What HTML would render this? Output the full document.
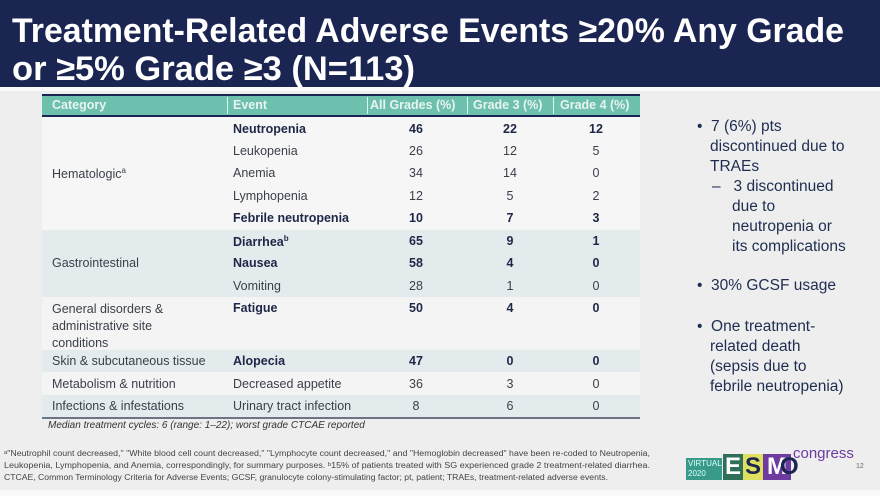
<!DOCTYPE html>
<html><head><meta charset="utf-8"><style>
body{margin:0;width:880px;height:496px;overflow:hidden;background:#eeeeee;font-family:"Liberation Sans",Arial,sans-serif;position:relative}
.a{position:absolute;white-space:nowrap}
.r{position:absolute;left:42px;width:598px}
.t{font-size:12.5px;color:#3a3f4a}
.b{font-weight:bold;color:#1e2747}
.c{text-align:center;width:60px}
.rt{position:absolute;left:697px;font-size:15.5px;color:#1e2d50;line-height:20px}
</style></head><body>
<div class="a" style="left:0;top:0;width:880px;height:87px;background:#1b2552"></div>
<svg class="a" style="left:0;top:0" width="880" height="90">
<text x="12" y="42" fill="#fff" font-family="Liberation Sans" font-weight="bold" font-size="34" textLength="832" lengthAdjust="spacingAndGlyphs">Treatment-Related Adverse Events ≥20% Any Grade</text>
<text x="12" y="80" fill="#fff" font-family="Liberation Sans" font-weight="bold" font-size="34" textLength="403" lengthAdjust="spacingAndGlyphs">or ≥5% Grade ≥3 (N=113)</text>
</svg>
<div class="a" style="left:0;top:87px;width:880px;height:4px;background:#fafafa"></div>
<div class="r" style="top:94px;height:2px;background:#1b2552"></div>
<div class="r" style="top:96px;height:19px;background:#6dbfae"></div>
<div class="r" style="top:115px;height:2px;background:#1b2552"></div>
<div class="a" style="left:227px;top:97px;width:1px;height:17px;background:#cfe"></div>
<div class="a" style="left:367px;top:97px;width:1px;height:17px;background:#cfe"></div>
<div class="a" style="left:467px;top:97px;width:1px;height:17px;background:#cfe"></div>
<div class="a" style="left:553px;top:97px;width:1px;height:17px;background:#cfe"></div>
<div class="a" style="left:52px;top:98px;font-size:12.5px;font-weight:bold;color:#e8f4f0">Category</div>
<div class="a" style="left:233px;top:98px;font-size:12.5px;font-weight:bold;color:#e8f4f0">Event</div>
<div class="a" style="left:370px;top:98px;font-size:12.5px;font-weight:bold;color:#e8f4f0">All Grades (%)</div>
<div class="a" style="left:473px;top:98px;font-size:12.5px;font-weight:bold;color:#e8f4f0">Grade 3 (%)</div>
<div class="a" style="left:560px;top:98px;font-size:12.5px;font-weight:bold;color:#e8f4f0">Grade 4 (%)</div>
<div class="r" style="top:117px;height:113px;background:#f6f6f6"></div>
<div class="r" style="top:230px;height:67px;background:#e4ebed"></div>
<div class="r" style="top:297px;height:53px;background:#f4f4f4"></div>
<div class="r" style="top:350px;height:22px;background:#e4ebed"></div>
<div class="r" style="top:372px;height:23px;background:#f4f4f4"></div>
<div class="r" style="top:395px;height:22px;background:#e4ebed"></div>
<div class="r" style="top:417px;height:2px;background:#6b7585"></div>
<div class="a t" style="left:52px;top:166px">Hematologic<sup style="font-size:8px">a</sup></div>
<div class="a t" style="left:52px;top:256px">Gastrointestinal</div>
<div class="a t" style="left:52px;top:301px;line-height:17px">General disorders &amp;<br>administrative site<br>conditions</div>
<div class="a t" style="left:52px;top:354px">Skin &amp; subcutaneous tissue</div>
<div class="a t" style="left:52px;top:377px">Metabolism &amp; nutrition</div>
<div class="a t" style="left:52px;top:399px">Infections &amp; infestations</div>
<div class="a t b" style="left:233px;top:122px">Neutropenia</div><div class="a t b c" style="left:386px;top:122px">46</div><div class="a t b c" style="left:480px;top:122px">22</div><div class="a t b c" style="left:566px;top:122px">12</div>
<div class="a t" style="left:233px;top:144px">Leukopenia</div><div class="a t c" style="left:386px;top:144px">26</div><div class="a t c" style="left:480px;top:144px">12</div><div class="a t c" style="left:566px;top:144px">5</div>
<div class="a t" style="left:233px;top:166px">Anemia</div><div class="a t c" style="left:386px;top:166px">34</div><div class="a t c" style="left:480px;top:166px">14</div><div class="a t c" style="left:566px;top:166px">0</div>
<div class="a t" style="left:233px;top:189px">Lymphopenia</div><div class="a t c" style="left:386px;top:189px">12</div><div class="a t c" style="left:480px;top:189px">5</div><div class="a t c" style="left:566px;top:189px">2</div>
<div class="a t b" style="left:233px;top:211px">Febrile neutropenia</div><div class="a t b c" style="left:386px;top:211px">10</div><div class="a t b c" style="left:480px;top:211px">7</div><div class="a t b c" style="left:566px;top:211px">3</div>
<div class="a t b" style="left:233px;top:234px">Diarrhea<sup style="font-size:8px">b</sup></div><div class="a t b c" style="left:386px;top:234px">65</div><div class="a t b c" style="left:480px;top:234px">9</div><div class="a t b c" style="left:566px;top:234px">1</div>
<div class="a t b" style="left:233px;top:256px">Nausea</div><div class="a t b c" style="left:386px;top:256px">58</div><div class="a t b c" style="left:480px;top:256px">4</div><div class="a t b c" style="left:566px;top:256px">0</div>
<div class="a t" style="left:233px;top:279px">Vomiting</div><div class="a t c" style="left:386px;top:279px">28</div><div class="a t c" style="left:480px;top:279px">1</div><div class="a t c" style="left:566px;top:279px">0</div>
<div class="a t b" style="left:233px;top:301px">Fatigue</div><div class="a t b c" style="left:386px;top:301px">50</div><div class="a t b c" style="left:480px;top:301px">4</div><div class="a t b c" style="left:566px;top:301px">0</div>
<div class="a t b" style="left:233px;top:354px">Alopecia</div><div class="a t b c" style="left:386px;top:354px">47</div><div class="a t b c" style="left:480px;top:354px">0</div><div class="a t b c" style="left:566px;top:354px">0</div>
<div class="a t" style="left:233px;top:377px">Decreased appetite</div><div class="a t c" style="left:386px;top:377px">36</div><div class="a t c" style="left:480px;top:377px">3</div><div class="a t c" style="left:566px;top:377px">0</div>
<div class="a t" style="left:233px;top:399px">Urinary tract infection</div><div class="a t c" style="left:386px;top:399px">8</div><div class="a t c" style="left:480px;top:399px">6</div><div class="a t c" style="left:566px;top:399px">0</div>
<div class="a" style="left:48px;top:420px;font-size:10px;font-style:italic;color:#333">Median treatment cycles: 6 (range: 1–22); worst grade CTCAE reported</div>
<div class="rt" style="top:117px">•&nbsp; 7 (6%) pts</div>
<div class="rt" style="top:137px;left:710px">discontinued due to<br>TRAEs</div>
<div class="rt" style="top:177px;left:712px">–&nbsp;&nbsp; 3 discontinued</div>
<div class="rt" style="top:197px;left:732px">due to<br>neutropenia or<br>its complications</div>
<div class="rt" style="top:276px">•&nbsp; 30% GCSF usage</div>
<div class="rt" style="top:317px">•&nbsp; One treatment-</div>
<div class="rt" style="top:337px;left:710px">related death<br>(sepsis due to<br>febrile neutropenia)</div>
<svg class="a" style="left:0;top:445px" width="680" height="45">
<g font-family="Liberation Sans" font-size="7.8" fill="#444">
<text x="4" y="11" textLength="646" lengthAdjust="spacingAndGlyphs">ᵃ"Neutrophil count decreased," "White blood cell count decreased," "Lymphocyte count decreased," and "Hemoglobin decreased" have been re-coded to Neutropenia,</text>
<text x="4" y="23" textLength="646" lengthAdjust="spacingAndGlyphs">Leukopenia, Lymphopenia, and Anemia, correspondingly, for summary purposes. ᵇ15% of patients treated with SG experienced grade 2 treatment-related diarrhea.</text>
<text x="4" y="35" textLength="604" lengthAdjust="spacingAndGlyphs">CTCAE, Common Terminology Criteria for Adverse Events; GCSF, granulocyte colony-stimulating factor; pt, patient; TRAEs, treatment-related adverse events.</text>
</g></svg>
<div class="a" style="left:686px;top:458px;width:36px;height:22px;background:#3a9a8a;color:#dff;font-size:8px;line-height:10px;padding:1px 2px;box-sizing:border-box">VIRTUAL<br>2020</div>
<div class="a" style="left:723px;top:454px;width:20px;height:26px;background:#2f6f5a;color:#fff;font-weight:bold;font-size:24px;line-height:26px;text-align:center">E</div>
<div class="a" style="left:743px;top:454px;width:20px;height:26px;background:#e0e060;color:#1b2552;font-weight:bold;font-size:24px;line-height:26px;text-align:center">S</div>
<div class="a" style="left:763px;top:454px;width:28px;height:26px;background:#6d3aa0;color:#fff;font-weight:bold;font-size:24px;line-height:26px;text-align:center">M</div>
<div class="a" style="left:780px;top:454px;width:18px;height:26px;color:#1b2552;font-weight:bold;font-size:24px;line-height:26px">O</div>
<div class="a" style="left:793px;top:445px;font-size:15px;color:#6d3aa0">congress</div>
<div class="a" style="left:856px;top:463px;font-size:7px;color:#666">12</div>
<div class="a" style="left:0;top:490px;width:880px;height:6px;background:#fafafa"></div>
</body></html>
